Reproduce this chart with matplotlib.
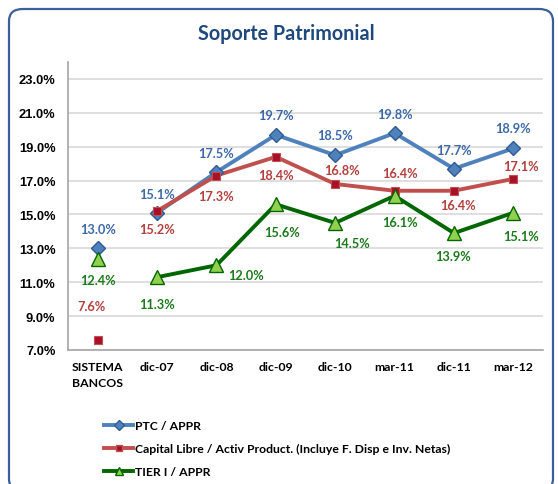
import matplotlib
matplotlib.use("Agg")
import matplotlib.pyplot as plt
from matplotlib.patches import FancyBboxPatch
from matplotlib.lines import Line2D

categories = ["SISTEMA\nBANCOS", "dic-07", "dic-08", "dic-09", "dic-10", "mar-11", "dic-11", "mar-12"]
ptc = [13.0, 15.1, 17.5, 19.7, 18.5, 19.8, 17.7, 18.9]
capital = [7.6, 15.2, 17.3, 18.4, 16.8, 16.4, 16.4, 17.1]
tier = [12.4, 11.3, 12.0, 15.6, 14.5, 16.1, 13.9, 15.1]
yticks = [7, 9, 11, 13, 15, 17, 19, 21, 23]
series_names = ["PTC / APPR", "Capital Libre / Activ Product. (Incluye F. Disp e Inv. Netas)", "TIER I / APPR"]

# label offsets in pixels (dx, dy up positive)
ptc_off = [(0, 19), (0, 19), (0, 19), (0, 20), (0, 20), (0, 19), (0, 19), (0, 20)]
cap_off = [(-6, 34), (0, -18), (0, -20), (0, -18), (7, 14), (5, 18), (4, -14), (8, 13)]
tier_off = [(0, -21), (0, -27), (30, -10), (6, -28), (17, -20), (5, -26), (-1, -23), (8, -23)]

W, H = 558, 485
fig = plt.figure(figsize=(W / 100, H / 100), dpi=100, facecolor="white")

# outer rounded frame
frame = FancyBboxPatch((9 / W, (H - 492) / H), (553 - 9) / W, (492 - 10) / H,
                       boxstyle="round,pad=0,rounding_size=0.025",
                       transform=fig.transFigure, facecolor="none",
                       edgecolor="#3A5F9A", linewidth=1.6, zorder=0)
fig.patches.append(frame)

ax = fig.add_axes([68 / W, (H - 351) / H, (543 - 68) / W, (351 - 63) / H])
ax.set_facecolor("none")
x = list(range(len(categories)))

ptc_c = "#4F81BD"
cap_c = "#C0504D"
tier_c = "#006600"

ax.plot(x[1:], ptc[1:], color=ptc_c, lw=2.8, zorder=3)
ax.plot(x[1:], capital[1:], color=cap_c, lw=2.8, zorder=3)
ax.plot(x[1:], tier[1:], color=tier_c, lw=2.8, zorder=3)

ax.plot(x, ptc, ls="none", marker="D", ms=7, mfc="#4F81BD", mec="#2F5A92", mew=1, zorder=4)
ax.plot(x, capital, ls="none", marker="s", ms=5.5, mfc="#A8102A", mec="#C0504D", mew=0.8, zorder=5)
ax.plot(x, tier, ls="none", marker="^", ms=9.5, mfc="#92D050", mec="#006600", mew=1, zorder=6)

lblfont = dict(family="Lato", weight="bold", size=9.2)
def labels(vals, offs, color):
    for xi, v, (dx, dy) in zip(x, vals, offs):
        ax.annotate(f"{v:.1f}%", (xi, v), xytext=(dx * 0.72, dy * 0.72),
                    textcoords="offset points", ha="center", va="center",
                    color=color, zorder=7, **lblfont)

labels(ptc, ptc_off, "#3D68A8")
labels(capital, cap_off, "#B3403D")
labels(tier, tier_off, "#1B7A1B")

ax.set_xlim(-0.5, len(categories) - 0.5)
ax.set_ylim(7, 24)
ax.set_yticks(yticks)
ax.set_yticklabels([f"{t:.1f}%" for t in yticks], family="Liberation Sans", weight="bold", size=9.3)
ax.set_xticks(x)
ax.set_xticklabels(categories, family="Lato", weight="bold", size=8.8, linespacing=1.5)
ax.tick_params(axis="y", length=0, pad=9)
ax.tick_params(axis="x", length=0, pad=8)
ax.grid(axis="y", color="#D9D9D9", lw=1.2)
ax.set_axisbelow(True)
for s in ["top", "right"]:
    ax.spines[s].set_visible(False)
for s in ["left", "bottom"]:
    ax.spines[s].set_color("#A6A6A6")
    ax.spines[s].set_linewidth(1.2)

fig.text(286 / W, 1 - 34 / H, "Soporte Patrimonial", ha="center", va="center",
         family="Lato", weight="bold", size=14.2, color="#1F497D")

handles = [
    Line2D([], [], color=ptc_c, lw=2.8, marker="D", ms=5, mfc="#4F81BD", mec="#2F5A92"),
    Line2D([], [], color=cap_c, lw=2.8, marker="s", ms=5, mfc="#A8102A", mec="#C0504D"),
    Line2D([], [], color=tier_c, lw=2.8, marker="^", ms=6, mfc="#92D050", mec="#006600"),
]
fig.legend(handles, series_names, loc="upper left", bbox_to_anchor=(93 / W, 1 - 410 / H),
           frameon=False, handlelength=2.4, handletextpad=0.15, labelspacing=1.0,
           prop=dict(family="Lato", weight="bold", size=8.8))

fig.savefig("out.png", dpi=100)
